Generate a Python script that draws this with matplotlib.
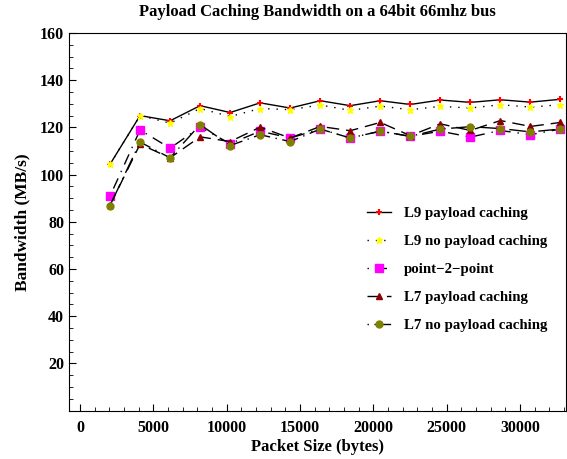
import numpy as np
import matplotlib
matplotlib.use('Agg')
import matplotlib.pyplot as plt
from matplotlib.ticker import MultipleLocator

plt.rcParams['font.family'] = 'Liberation Serif'
plt.rcParams['font.weight'] = 'bold'

packet_size = [2048, 4096, 6144, 8192, 10240, 12288, 14336, 16384,
               18432, 20480, 22528, 24576, 26624, 28672, 30720, 32768]

l9_caching = [104.4, 125.0, 122.8, 129.2, 126.3, 130.4, 128.2, 131.3,
              129.2, 131.3, 129.7, 131.6, 130.6, 131.7, 130.7, 131.9]
l9_no_caching = [104.4, 125.0, 121.8, 128.0, 124.6, 128.0, 127.5, 129.5,
                 127.2, 129.0, 127.5, 128.9, 128.2, 129.6, 128.6, 129.6]
p2p = [90.9, 118.9, 111.2, 120.1, 113.1, 118.4, 115.5, 119.3,
       115.5, 118.4, 116.2, 118.4, 115.9, 118.7, 116.9, 119.3]
l7_caching = [87.0, 112.9, 107.1, 116.0, 114.0, 120.1, 115.5, 120.4,
              118.6, 122.1, 116.5, 121.5, 118.7, 122.9, 120.4, 122.1]
l7_no_caching = [86.9, 113.8, 107.1, 121.2, 112.3, 116.9, 114.0, 119.3,
                 115.5, 118.4, 116.2, 119.3, 120.3, 119.5, 118.1, 119.3]

fig = plt.figure(figsize=(5.67, 4.59), dpi=100)
ax = fig.add_axes([0.1217, 0.1052, 0.8766, 0.823])

ax.plot(packet_size, l9_caching, color='black', linewidth=1, linestyle='-',
        marker='+', markersize=5, markeredgewidth=1.5, markeredgecolor='red',
        label='L9 payload caching')
ax.plot(packet_size, l9_no_caching, color='black', linewidth=1, linestyle=(0, (1, 5)),
        marker='*', markersize=5, markerfacecolor='yellow', markeredgecolor='yellow',
        label='L9 no payload caching')
ax.plot(packet_size, p2p, color='black', linewidth=1, linestyle=(0, (1, 5, 8, 5)),
        marker='s', markersize=5.5, markerfacecolor='magenta', markeredgecolor='magenta',
        label='point\u22122\u2212point')
ax.plot(packet_size, l7_caching, color='black', linewidth=1, linestyle=(0, (9, 5)),
        marker='^', markersize=4, markerfacecolor='#8b0000', markeredgecolor='#8b0000',
        label='L7 payload caching')
ax.plot(packet_size, l7_no_caching, color='black', linewidth=1, linestyle=(0, (1, 4, 12, 4)),
        marker='o', markersize=5, markerfacecolor='#808000', markeredgecolor='#808000',
        label='L7 no payload caching')

ax.set_xlim(-750, 33150)
ax.set_ylim(0, 160)
ax.set_xticks([0, 5000, 10000, 15000, 20000, 25000, 30000])
ax.set_yticks([20, 40, 60, 80, 100, 120, 140, 160])
ax.xaxis.set_minor_locator(MultipleLocator(1000))
ax.yaxis.set_minor_locator(MultipleLocator(5))
ax.tick_params(which='both', direction='in', top=False, right=False, labelsize=11.5)
ax.tick_params(which='major', length=5)
ax.tick_params(which='minor', length=3)
ax.tick_params(axis='x', pad=6.5)

ax.set_title('Payload Caching Bandwidth on a 64bit 66mhz bus', fontsize=12,
             fontweight='bold', pad=12)
ax.set_xlabel('Packet Size (bytes)', fontsize=12, fontweight='bold', labelpad=2)
ax.set_ylabel('Bandwidth (MB/s)', fontsize=12.5, fontweight='bold', labelpad=7)

ax.legend(loc='upper left', bbox_to_anchor=(0.60, 0.54), frameon=False, fontsize=10.7,
          handlelength=1.6, handletextpad=0.87, labelspacing=0.98,
          borderpad=0, borderaxespad=0)

fig.savefig('out.png', dpi=100)
